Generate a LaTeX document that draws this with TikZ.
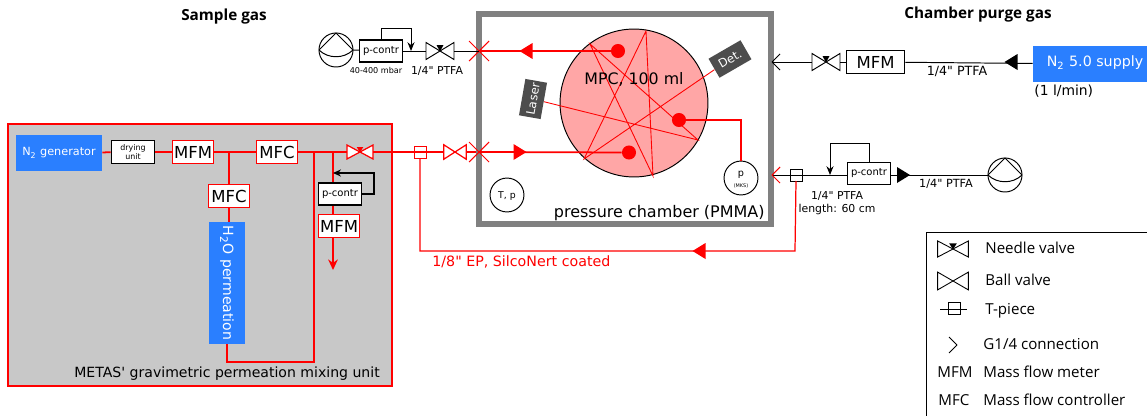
\documentclass[tikz,border=0pt]{standalone}
\usepackage{fontspec}
\setmainfont{DejaVu Sans}[Ligatures=TeXOff]
\newfontfamily\legendfont{Open Sans}
\usetikzlibrary{arrows.meta}
\definecolor{boxblue}{HTML}{2A7FFF}
\definecolor{mixgrey}{HTML}{C8C8C8}
\definecolor{wallgrey}{HTML}{808080}
\definecolor{optgrey}{HTML}{4D4D4D}
\definecolor{mpcred}{HTML}{FFA6A6}
\newcommand{\fs}[1]{\fontsize{#1pt}{\dimexpr#1pt*12/10\relax}\selectfont}
\tikzset{
	pipe/.style={line width=0.55pt},
	redpipe/.style={red,line width=1pt},
	beam/.style={red,line width=0.5pt},
	unit/.style={draw,fill=white,line width=0.6pt,inner sep=0pt,text=black},
	redunit/.style={unit,draw=red,minimum width=23.5pt,minimum height=13pt,font=\fs{9.4}},
	ctrl/.style={unit,minimum width=24.5pt,minimum height=12.5pt,font=\fs{5.7}},
	source/.style={fill=boxblue,text=white,inner sep=0pt},
	optic/.style={fill=optgrey,text=white,inner sep=0pt,minimum width=21pt,minimum height=12.5pt,font=\fs{6.7}},
	gauge/.style={draw,circle,minimum size=19.3pt,inner sep=0pt,line width=0.55pt},
	label/.style={inner sep=0pt,font=\fs{6.2}},
	legend/.style={inner sep=0pt,anchor=west,font=\legendfont\fs{8.6}},
	valve/.pic={
		\draw[fill=white] (-14,-8.5) -- (14,8.5) -- (14,-8.5) -- (-14,8.5) -- cycle;
		\coordinate (-w) at (-14,0);
		\coordinate (-e) at (14,0);
	},
	needle/.pic={
		\draw[fill=white] (-14,-8.5) -- (14,8.5) -- (14,-8.5) -- (-14,8.5) -- cycle;
		\fill (-3.5,-6) -- (3.5,-6) -- (0,0.5) -- cycle;
		\coordinate (-w) at (-14,0);
		\coordinate (-e) at (14,0);
	},
	flowtip/.pic={\fill (-6.5,-8) -- (6.5,0) -- (-6.5,8) -- cycle;},
	fitting/.pic={\draw (0,0) -- (10,-10) (0,0) -- (10,10);},
	chevron/.pic={\draw (0,0) -- (8,-8) (0,0) -- (8,8);},
	pump/.pic={
		\draw[fill=white] (0,0) circle (17);
		\draw (-17,0) -- (0,-17) -- (17,0);
		\draw (-17,0) .. controls (-8,9) and (8,9) .. (17,0);
		\coordinate (-w) at (-17,0);
		\coordinate (-e) at (17,0);
	},
	tee/.pic={
		\draw[fill=none] (-6,-6) rectangle (6,6);
		\coordinate (-c) at (0,0);
		\coordinate (-s) at (0,6);
	}
}
\begin{document}
\begin{tikzpicture}[x=0.02cm,y=-0.02cm]
	\useasboundingbox (0,0) rectangle (1147,416);

	% Mixing unit
	\node[fill=mixgrey,draw=red,line width=0.7pt,minimum width=218.5pt,minimum height=149pt,inner sep=0pt] (mixunit) at (200,255) {};
	\node[inner sep=0pt,anchor=west,font=\fs{8}] (mixlabel) at (74,374) {METAS' gravimetric permeation mixing unit};
	\node[source,minimum width=49pt,minimum height=20pt,font=\fs{6.4}] (generator) at (59,153) {N\textsubscript{2} generator};
	\node[unit,minimum width=25pt,minimum height=13pt,align=center,font=\fs{4.5}] (drying) at (133,152) {drying\\unit};
	\node[redunit] (mfmtop) at (193,152) {MFM};
	\node[redunit] (mfctop) at (277,152) {MFC};
	\node[redunit] (mfcwater) at (229,196) {MFC};
	\node[source,minimum width=20pt,minimum height=69.5pt] (water) at (227,283) {};
	\node[rotate=-90,text=white,inner sep=0pt,font=\fs{8}] (waterlabel) at (227,283) {H\textsubscript{2}O permeation};
	\node[ctrl] (pcontrmix) at (340,194) {p-contr};
	\node[redunit] (mfmvent) at (339,226) {MFM};
	\coordinate (jwater) at (229,152);
	\coordinate (jbypass) at (314,152);
	\coordinate (jvent) at (333,152);
	\coordinate (bypassend) at (314,362);
	\coordinate (ventend) at (333,270);
	\coordinate (fbmix) at (333,173);
	\pic[red,line width=0.7pt,xscale=0.93,yscale=0.82] (vmix) at (360,152) {needle};
	\draw[redpipe] (generator) -- (drying);
	\draw[redpipe] (drying) -- (mfmtop);
	\draw[redpipe] (mfmtop) -- (mfctop);
	\draw[redpipe] (mfctop) -- (vmix-w);
	\draw[redpipe] (jwater) -- (mfcwater);
	\draw[redpipe] (mfcwater) -- (water.north -| mfcwater);
	\draw[redpipe] (water.south) |- (bypassend) -- (jbypass);
	\draw[redpipe] (jvent) -- (pcontrmix.north -| jvent);
	\draw[redpipe] (pcontrmix.south -| jvent) -- (mfmvent.north -| jvent);
	\draw[redpipe,-{Stealth[length=6pt,width=5.5pt]}] (mfmvent.south -| jvent) -- (ventend);
	\draw[pipe,line width=0.9pt,-{Stealth[length=4.5pt,width=4pt]}] (pcontrmix.east) -- ++(12,0) |- (fbmix);

	% Sample line to chamber
	\pic[red,line width=0.55pt] (teesample) at (420,152) {tee};
	\pic[red,line width=0.7pt,xscale=0.8,yscale=0.85] (vsample) at (455,152) {valve};
	\coordinate (finsample) at (479,152);
	\draw[redpipe] (vmix-e) -- (vsample-w);
	\draw[redpipe] (vsample-e) -- (finsample);

	% Pressure chamber
	\draw[wallgrey,line width=2.9pt] (479,14) rectangle (771,224);
	\node[inner sep=0pt,anchor=east,font=\fs{9.1}] (chamberlabel) at (765,213) {pressure chamber (PMMA)};
	\node[draw,circle,fill=mpcred,minimum size=84.2pt,inner sep=0pt,line width=0.55pt] (mpc) at (634,103) {};
	\node[optic,rotate=80] (laser) at (533,99) {Laser};
	\node[optic,rotate=30] (det) at (730,59) {Det.};
	\coordinate (b1) at (698,140);
	\coordinate (b2) at (590,44);
	\coordinate (b3) at (653,176);
	\coordinate (b4) at (646,31);
	\coordinate (b5) at (584,159);
	\draw[beam] (laser) -- (b1) -- (b2) -- (b3) -- (b4) -- (b5) -- (det);
	\node[font=\fs{9},inner sep=0pt] (mpclabel) at (634,79) {MPC, 100 ml};
	\node[circle,fill=red,minimum size=8pt,inner sep=0pt] (dotout) at (618,51) {};
	\node[circle,fill=red,minimum size=8pt,inner sep=0pt] (dotlow) at (629,152.5) {};
	\node[circle,fill=red,minimum size=8pt,inner sep=0pt] (dotp) at (679,120) {};
	\node[gauge] (pgauge) at (741,178) {};
	\node[gauge] (tpgauge) at (507,195) {};
	\node[inner sep=0pt,font=\fs{5.3}] (tplabel) at (507,196) {T, p};
	\node[inner sep=0pt,font=\fs{5.5}] (plabel) at (741,175) {p};
	\node[inner sep=0pt,font=\fs{2.8}] (mkslabel) at (741,186) {(MKS)};
	\coordinate (finout) at (479,51);
	\draw[redpipe] (finsample) -- (dotlow);
	\draw[redpipe] (dotout) -- (finout);
	\draw[red,line width=0.6pt] (dotp) -| (pgauge);
	\pic[red] at (520,152) {flowtip};
	\pic[red,rotate=180] at (526,51) {flowtip};
	\pic[red,line width=0.6pt] at (479,51) {fitting};
	\pic[red,line width=0.6pt,rotate=180] at (479,51) {fitting};
	\pic[red,line width=0.6pt] at (479,152) {fitting};
	\pic[red,line width=0.6pt,rotate=180] at (479,152) {fitting};

	% Pump on the outlet
	\pic[line width=0.55pt] (pumpout) at (336,50) {pump};
	\node[ctrl] (pcontrout) at (381,51) {p-contr};
	\pic[line width=0.55pt] (vout) at (440,51) {needle};
	\coordinate (fbout) at (411,51);
	\node[label,font=\fs{4.6}] (mbar) at (376,70) {40-400 mbar};
	\node[label] (ptfaout) at (437,71) {1/4" PTFA};
	\draw[pipe] (pumpout-e) -- (pcontrout);
	\draw[pipe] (pcontrout) -- (vout-w);
	\draw[pipe] (vout-e) -- (finout);
	\draw[pipe,-{Stealth[length=5pt,width=4pt]}] (pcontrout.north) |- ++(30,-11) -- (fbout);

	% Purge gas
	\node[source,minimum width=65pt,minimum height=20.5pt] (supply) at (1090,64) {};
	\node[text=white,inner sep=0pt,font=\fs{8.1}] (supplylabel) at (1095,63) {N\textsubscript{2} 5.0 supply};
	\node[redunit,draw=black,minimum width=33.5pt] (mfmpurge) at (875.5,62) {MFM};
	\pic[line width=0.55pt] (vpurge) at (826,62) {needle};
	\coordinate (finpurge) at (772,62);
	\node[label,font=\fs{7.9},anchor=west] (flow) at (1034,91) {(1 l/min)};
	\node[label,font=\fs{7.2}] (ptfapurge) at (957,71) {1/4" PTFA};
	\draw[pipe] (supply) -- (mfmpurge);
	\draw[pipe] (mfmpurge) -- (vpurge-e);
	\draw[pipe] (vpurge-w) -- (finpurge);
	\pic[rotate=180] at (1011,62) {flowtip};
	\pic[line width=0.55pt] at (772,62) {chevron};

	% Pump on the chamber side
	\coordinate (finback) at (772,175);
	\pic[line width=0.55pt] (teeback) at (796,175) {tee};
	\node[ctrl] (pcontrback) at (869,173.5) {p-contr};
	\pic[line width=0.55pt] (pumpback) at (1005,175) {pump};
	\coordinate (fbback) at (830,175);
	\node[label,font=\fs{6.4}] (ptfaback) at (946,184) {1/4" PTFA};
	\node[label,align=center] (lengthback) at (837,203) {1/4" PTFA\\length: 60 cm};
	\draw[pipe] (finback) -- (pcontrback.west |- finback);
	\draw[pipe] (pcontrback.east |- finback) -- (pumpback-w);
	\draw[pipe,-{Stealth[length=5pt,width=4pt]}] (pcontrback.north) |- ++(-39,-19) -- (fbback);
	\pic at (903.5,175) {flowtip};
	\pic[red,line width=0.6pt] at (772,175) {chevron};

	% Return line
	\coordinate (retleft) at (420,251);
	\coordinate (retright) at (795,251);
	\node[inner sep=0pt,anchor=west,text=red,font=\fs{8.1}] (retlabel) at (432,262) {1/8" EP, SilcoNert coated};
	\draw[red,line width=0.7pt] (teesample-s) -- (retleft) -- (retright) -- (teeback-s);
	\pic[red,rotate=180] at (699,251) {flowtip};

	% Legend
	\draw[line width=0.5pt] (1147,232) -- (926,232) -- (926,416);
	\pic[line width=0.5pt,xscale=1.1,yscale=0.95] (lgneedle) at (953,249) {needle};
	\pic[line width=0.5pt,xscale=1.1,yscale=1.05] (lgball) at (953,281) {valve};
	\pic[line width=0.5pt] (lgtee) at (954,308) {tee};
	\coordinate (lgteea) at (940,309);
	\coordinate (lgteeb) at (967,309);
	\draw[line width=0.5pt] (lgteea) -- (lgteeb);
	\pic[line width=0.5pt,rotate=180] at (957,345) {chevron};
	\node[legend] (lgneedletext) at (985,248) {Needle valve};
	\node[legend] (lgballtext) at (985,280) {Ball valve};
	\node[legend] (lgteetext) at (985,311) {T-piece};
	\node[legend] (lgfittext) at (983,344) {G1/4 connection};
	\node[legend] (lgmfm) at (937,372) {MFM};
	\node[legend] (lgmfmtext) at (983,372) {Mass flow meter};
	\node[legend] (lgmfc) at (938,400) {MFC};
	\node[legend] (lgmfctext) at (983,400) {Mass flow controller};

	% Titles
	\node[inner sep=0pt,font=\legendfont\bfseries\fs{8.7}] (sampletitle) at (224,17) {Sample gas};
	\node[inner sep=0pt,font=\legendfont\bfseries\fs{8.7}] (purgetitle) at (978,15) {Chamber purge gas};
\end{tikzpicture}
\end{document}
